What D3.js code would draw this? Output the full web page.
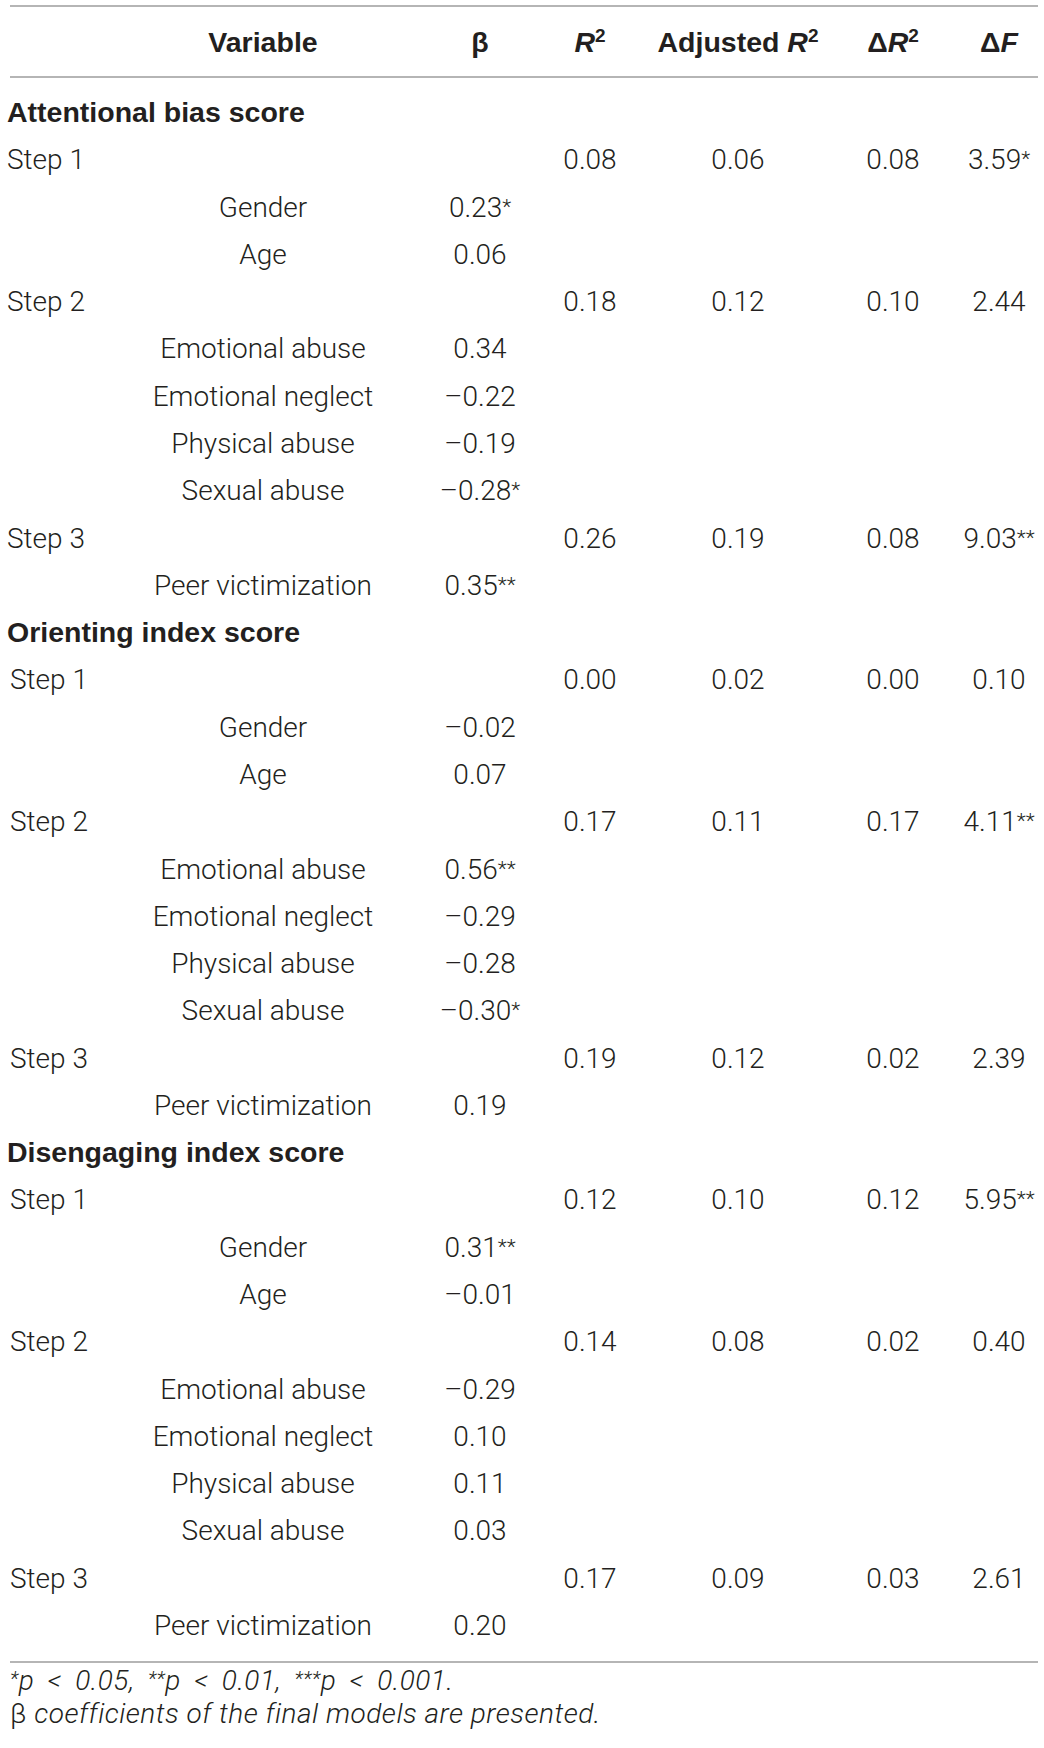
<!DOCTYPE html>
<html>
<head>
<meta charset="utf-8">
<script src="https://cdn.jsdelivr.net/npm/d3@7"></script>
<style>
  html, body { margin: 0; padding: 0; background: #fff; }
  svg { display: block; }
  .body { font-family: Roboto, "Liberation Sans", sans-serif; font-weight: 300; font-size: 28px; fill: #231f20; }
  .bold { font-family: "Liberation Sans", Arial, sans-serif; font-weight: 700; font-size: 28.5px; fill: #231f20; }
  .foot { font-family: Roboto, "Liberation Sans", sans-serif; font-weight: 300; font-style: italic; font-size: 28px; letter-spacing: 0.5px; fill: #231f20; }
  .rule { stroke: #9d9d9d; stroke-width: 1.6; }
</style>
</head>
<body>
<svg id="chart" width="1044" height="1748"></svg>
<script>
// ---- data ----
const columns = ["Variable", "β", "R2", "Adjusted R2", "ΔR2", "ΔF"];
const groups = ["Attentional bias score", "Orienting index score", "Disengaging index score"];
const steps = ["Step 1", "Step 2", "Step 3"];
const predictors = [["Gender", "Age"], ["Emotional abuse", "Emotional neglect", "Physical abuse", "Sexual abuse"], ["Peer victimization"]];

const r2Values      = [[0.08, 0.18, 0.26], [0.00, 0.17, 0.19], [0.12, 0.14, 0.17]];
const adjR2Values   = [[0.06, 0.12, 0.19], [0.02, 0.11, 0.12], [0.10, 0.08, 0.09]];
const deltaR2Values = [[0.08, 0.10, 0.08], [0.00, 0.17, 0.02], [0.12, 0.02, 0.03]];
const deltaFValues  = [[3.59, 2.44, 9.03], [0.10, 4.11, 2.39], [5.95, 0.40, 2.61]];
const deltaFStars   = [["*", "", "**"], ["", "**", ""], ["**", "", ""]];

const betaValues = [
  [0.23, 0.06, 0.34, -0.22, -0.19, -0.28, 0.35],
  [-0.02, 0.07, 0.56, -0.29, -0.28, -0.30, 0.19],
  [0.31, -0.01, -0.29, 0.10, 0.11, 0.03, 0.20]
];
const betaStars = [
  ["*", "", "", "", "", "*", "**"],
  ["", "", "**", "", "", "*", ""],
  ["**", "", "", "", "", "", ""]
];
const footnoteParts = [
  [["*", "star"], ["p < 0.05, ", ""], ["**", "star"], ["p < 0.01, ", ""], ["***", "star"], ["p < 0.001.", ""]],
  [["β", "upright"], [" coefficients of the final models are presented.", ""]]
];

// ---- build rows ----
const rows = [];
groups.forEach((g, gi) => {
  rows.push({ type: "group", label: g, gi });
  let bi = 0;
  steps.forEach((s, si) => {
    rows.push({ type: "step", label: s, gi,
      cells: { "R2": [r2Values[gi][si], ""], "Adjusted R2": [adjR2Values[gi][si], ""],
               "ΔR2": [deltaR2Values[gi][si], ""], "ΔF": [deltaFValues[gi][si], deltaFStars[gi][si]] } });
    predictors[si].forEach(p => {
      rows.push({ type: "pred", label: p, gi, cells: { "β": [betaValues[gi][bi], betaStars[gi][bi]] } });
      bi++;
    });
  });
});

// ---- scales ----
const svg = d3.select("#chart");
const x = d3.scaleOrdinal().domain(columns).range([263, 480, 590, 738, 893, 999]);
const y = d3.scaleLinear().domain([0, rows.length - 1]).range([122, 1635]);
const ruleX = [10, 1038];
const f2 = d3.format(".2f");

function numberCell(sel, v, stars) {
  sel.append("tspan").text((v < 0 ? "–" : "") + f2(Math.abs(v)));
  if (stars) sel.append("tspan").attr("font-size", "21px").attr("dy", -3).text(stars);
}

// rules
[6, 77, 1662].forEach(yy => {
  svg.append("line").attr("class", "rule").attr("x1", ruleX[0]).attr("x2", ruleX[1]).attr("y1", yy).attr("y2", yy);
});

// header
const headerY = 52;
const hdr = svg.append("g").attr("class", "bold").attr("text-anchor", "middle");
columns.forEach(c => {
  const t = hdr.append("text").attr("x", x(c)).attr("y", headerY);
  if (c === "R2" || c === "Adjusted R2" || c === "ΔR2") {
    const pre = c === "Adjusted R2" ? "Adjusted " : (c === "ΔR2" ? "Δ" : "");
    if (pre) t.append("tspan").text(pre);
    t.append("tspan").attr("font-style", "italic").text("R");
    t.append("tspan").attr("font-size", "19px").attr("dy", -10).text("2");
  } else if (c === "ΔF") {
    t.append("tspan").text("Δ");
    t.append("tspan").attr("font-style", "italic").text("F");
  } else {
    t.text(c);
  }
});

// body rows
const body = svg.append("g");
rows.forEach((r, i) => {
  const yy = y(i);
  if (r.type === "group") {
    body.append("text").attr("class", "bold").attr("x", 7).attr("y", yy).text(r.label);
  } else if (r.type === "step") {
    body.append("text").attr("class", "body").attr("x", r.gi === 0 ? 7 : 10).attr("y", yy).text(r.label);
  } else {
    body.append("text").attr("class", "body").attr("text-anchor", "middle").attr("x", x("Variable")).attr("y", yy).text(r.label);
  }
  if (r.cells) {
    Object.entries(r.cells).forEach(([c, [v, st]]) => {
      const t = body.append("text").attr("class", "body").attr("text-anchor", "middle").attr("x", x(c)).attr("y", yy);
      numberCell(t, v, st);
    });
  }
});

// footnotes
const fy = d3.scaleLinear().domain([0, 1]).range([1690, 1723]);
footnoteParts.forEach((parts, i) => {
  const t = svg.append("text").attr("class", "foot").attr("x", 10).attr("y", fy(i));
  if (i === 0) t.attr("word-spacing", "6px");
  parts.forEach(([txt, kind]) => {
    const s = t.append("tspan").text(txt);
    if (kind === "star") s.attr("font-size", "20px").attr("dy", -4);
    else if (i === 0) s.attr("dy", 4);
    if (kind === "upright") s.attr("font-style", "normal");
  });
});
</script>
</body>
</html>
